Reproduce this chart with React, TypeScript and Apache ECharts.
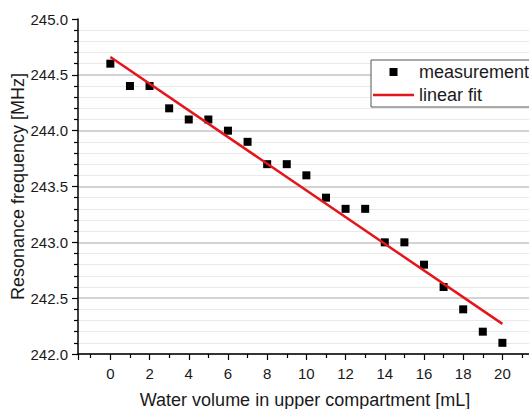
import React, { useEffect, useRef } from "react";
import * as echarts from "echarts";

const volumes = [0, 1, 2, 3, 4, 5, 6, 7, 8, 9, 10, 11, 12, 13, 14, 15, 16, 17, 18, 19, 20];
const frequencies = [
  244.6, 244.4, 244.4, 244.2, 244.1, 244.1, 244.0, 243.9, 243.7, 243.7, 243.6,
  243.4, 243.3, 243.3, 243.0, 243.0, 242.8, 242.6, 242.4, 242.2, 242.1,
];
const fitX = [0, 20];
const fitY = [244.66, 242.27];

const FONT = "'Liberation Sans', Arial, Helvetica, sans-serif";

export default function App() {
  const ref = useRef<HTMLDivElement>(null);
  useEffect(() => {
    if (!ref.current) return;
    const chart = echarts.init(ref.current, null, { renderer: "svg" });
    chart.setOption({
      animation: false,
      backgroundColor: "#ffffff",
      textStyle: { fontFamily: FONT },
      grid: { left: 78, right: -3, top: 19, bottom: 55, outerBoundsMode: "none", containLabel: false },
      legend: {
        orient: "vertical",
        left: 371,
        top: 60,
        padding: [3, 14, 3, 2],
        itemGap: 5,
        itemWidth: 41,
        itemHeight: 8,
        symbolKeepAspect: true,
        borderColor: "#555555",
        borderWidth: 1,
        backgroundColor: "#ffffff",
        align: "left",
        textStyle: { fontSize: 18, color: "#1a1a1a", fontFamily: FONT, lineHeight: 18 },
        data: [
          { name: "measurement", icon: "path://M0,0L10,0L10,10L0,10Z" },
          { name: "linear fit", icon: "path://M0,0L41,0L41,2.6L0,2.6Z" },
        ],
      },
      xAxis: {
        type: "value",
        min: -1.65,
        max: 21.51,
        splitNumber: 11,
        minInterval: 2,
        maxInterval: 2,
        name: "Water volume in upper compartment [mL]",
        nameLocation: "middle",
        nameGap: 37,
        nameMoveOverlap: false,
        nameTextStyle: { fontSize: 18, color: "#1a1a1a", fontFamily: FONT },
        axisLine: { show: true, onZero: false, lineStyle: { color: "#000000", width: 1.5 } },
        axisTick: { show: true, length: 6, lineStyle: { color: "#000000", width: 1.2 } },
        minorTick: { show: true, splitNumber: 2, length: 4, lineStyle: { color: "#000000", width: 1.2 } },
        axisLabel: {
          fontSize: 15,
          color: "#1a1a1a",
          margin: 12,
          showMinLabel: false,
          showMaxLabel: false,
          fontFamily: FONT,
        },
        splitLine: { show: false },
      },
      yAxis: {
        type: "value",
        min: 242,
        max: 245,
        interval: 0.5,
        name: "Resonance frequency [MHz]",
        nameLocation: "middle",
        nameGap: 51,
        nameMoveOverlap: false,
        nameTextStyle: { fontSize: 18, color: "#1a1a1a", fontFamily: FONT },
        axisLine: { show: true, onZero: false, lineStyle: { color: "#000000", width: 1.5 } },
        axisTick: { show: true, length: 6, lineStyle: { color: "#000000", width: 1.2 } },
        minorTick: { show: true, splitNumber: 5, length: 4, lineStyle: { color: "#000000", width: 1.2 } },
        axisLabel: {
          fontSize: 15,
          color: "#1a1a1a",
          margin: 10,
          fontFamily: FONT,
          formatter: (v: number) => v.toFixed(1),
        },
        splitLine: { show: true, showMaxLine: false, lineStyle: { color: "#c4c4c4", width: 1.5 } },
        minorSplitLine: { show: true, lineStyle: { color: "#e9e9e9", width: 1 } },
      },
      series: [
        {
          name: "measurement",
          type: "scatter",
          symbol: "rect",
          symbolSize: 8,
          itemStyle: { color: "#000000", opacity: 1 },
          data: volumes.map((v, i) => [v, frequencies[i]]),
          z: 3,
        },
        {
          name: "linear fit",
          type: "line",
          symbol: "none",
          lineStyle: { color: "#e3161b", width: 2.5 },
          itemStyle: { color: "#e3161b" },
          data: fitX.map((v, i) => [v, fitY[i]]),
          z: 4,
        },
      ],
    });
    return () => chart.dispose();
  }, []);
  return <div ref={ref} style={{ width: 529, height: 409, position: "absolute", left: 0, top: 0, overflow: "hidden" }} />;
}
